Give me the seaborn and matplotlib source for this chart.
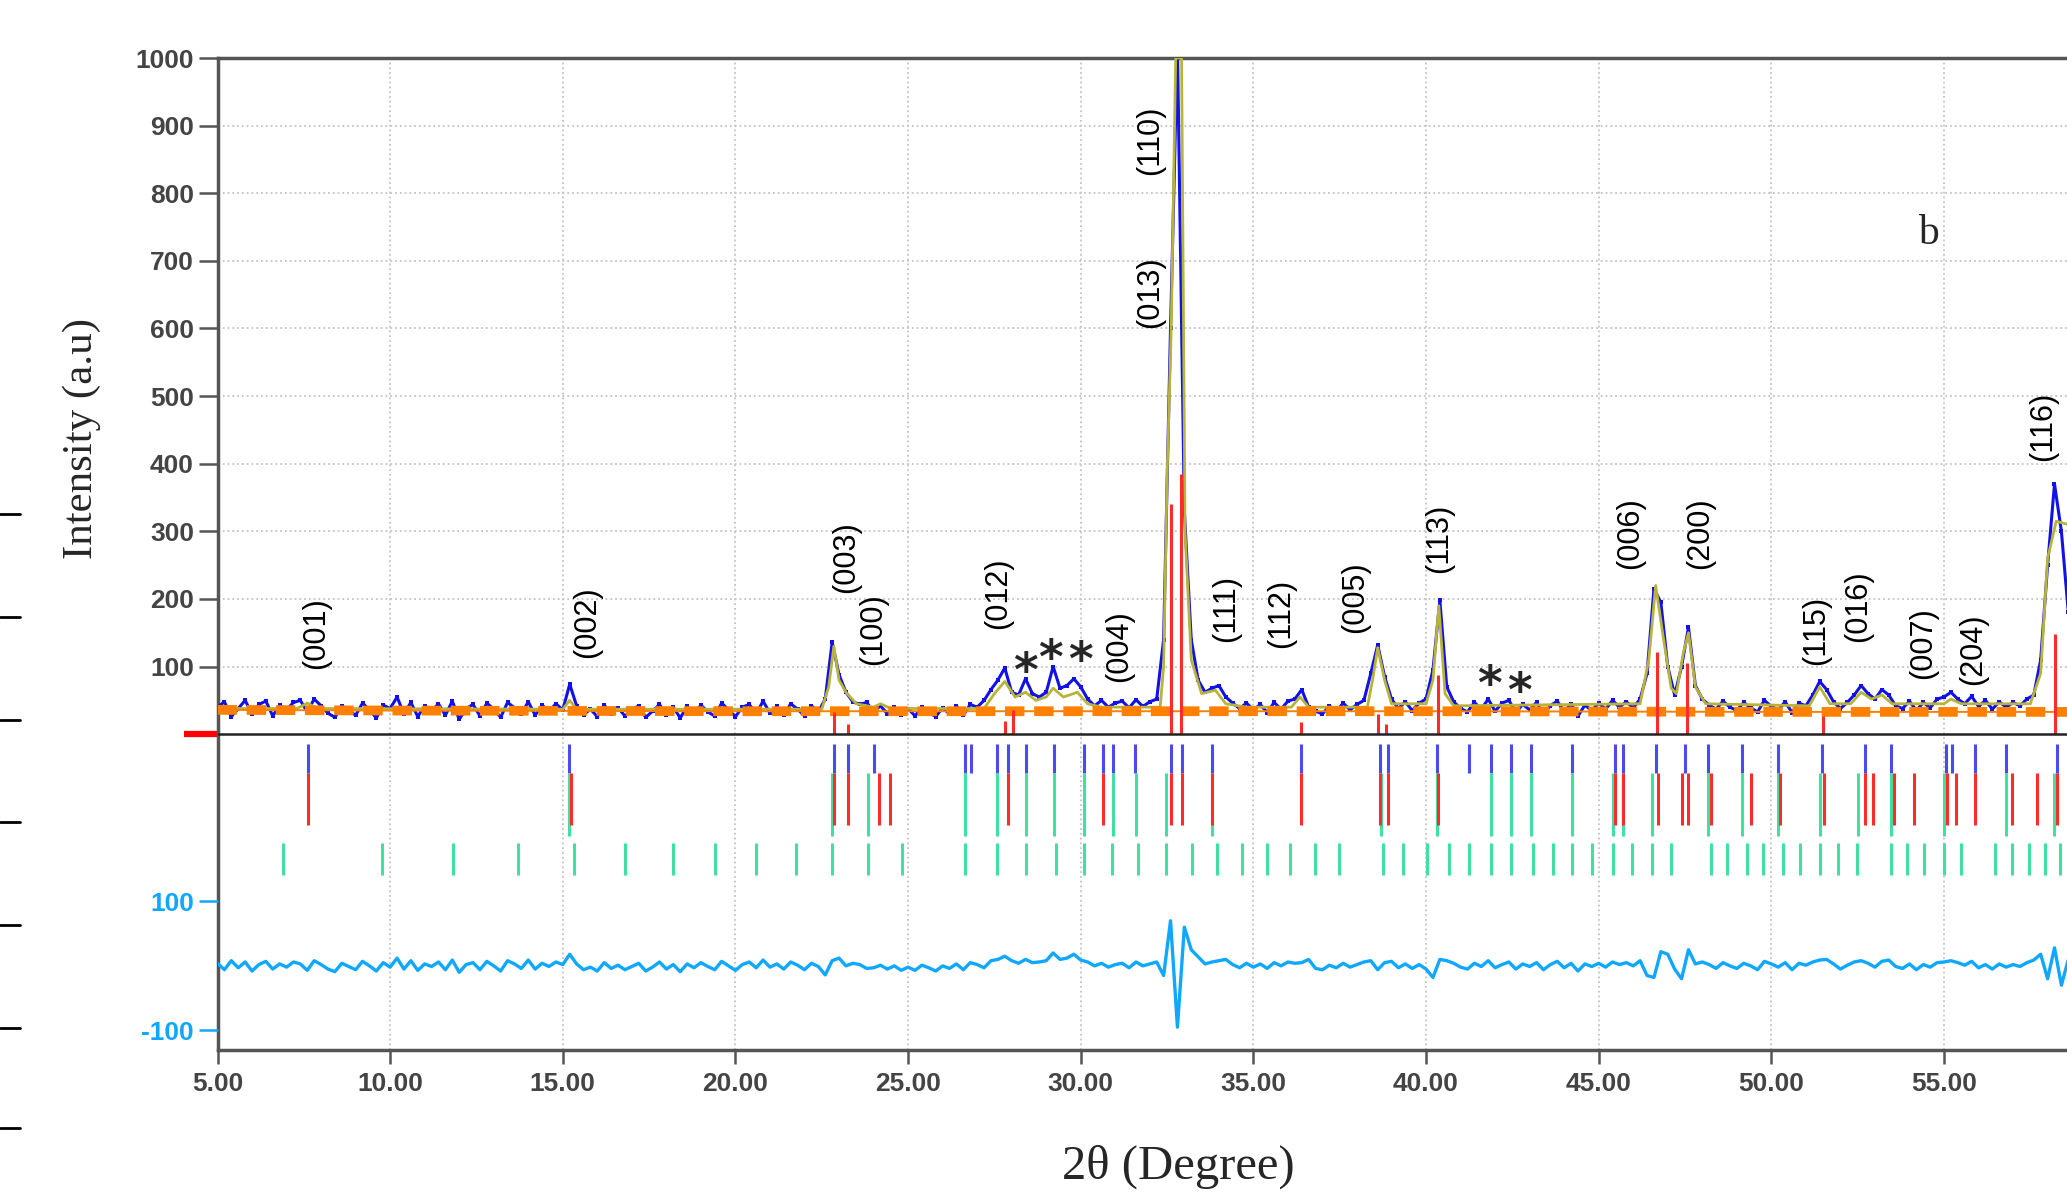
import numpy as np
import pandas as pd
import matplotlib
matplotlib.use("Agg")
import matplotlib.pyplot as plt
from matplotlib.lines import Line2D
import seaborn as sns

# ---- data ----
# observed intensity on a 0.2 degree grid, 5.0 .. 58.6
obs = [
    40, 48, 26, 38, 50, 30, 44, 49, 27, 43,
    36, 47, 50, 33, 52, 42, 31, 25, 42, 35,
    28, 46, 36, 24, 43, 38, 55, 30, 47, 26,
    42, 34, 45, 28, 49, 22, 38, 44, 27, 46,
    37, 25, 47, 39, 30, 48, 28, 43, 34, 45,
    36, 74, 42, 29, 37, 26, 43, 30, 39, 27,
    36, 42, 25, 34, 44, 28, 40, 24, 41, 30,
    43, 33, 27, 46, 36, 26, 40, 44, 30, 49,
    31, 41, 28, 45, 37, 27, 42, 33, 52, 136,
    88, 62, 48, 44, 47, 33, 42, 30, 40, 28,
    38, 27, 40, 32, 26, 39, 30, 42, 28, 44,
    40, 50, 66, 80, 98, 62, 58, 82, 60, 55,
    62, 100, 68, 72, 82, 70, 52, 42, 50, 40,
    46, 49, 39, 51, 41, 48, 52, 140, 600, 1020,
    330, 140, 80, 62, 68, 72, 55, 46, 38, 46,
    36, 44, 32, 47, 37, 49, 52, 66, 40, 34,
    30, 42, 34, 46, 36, 44, 50, 90, 132, 85,
    52, 38, 48, 35, 46, 52, 95, 198, 70, 48,
    38, 33, 47, 37, 52, 34, 46, 50, 32, 44,
    36, 47, 30, 42, 49, 33, 45, 27, 43, 35,
    46, 37, 50, 40, 48, 39, 52, 90, 215, 195,
    100, 58, 100, 158, 72, 52, 43, 37, 49, 40,
    35, 47, 39, 33, 50, 41, 36, 48, 32, 46,
    42, 58, 78, 66, 48, 38, 47, 58, 72, 60,
    52, 66, 58, 42, 38, 49, 35, 47, 39, 52,
    55, 62, 52, 45, 56, 41, 50, 37, 48, 40,
    47, 42, 52, 58, 110, 250, 370, 300, 180,
]
# difference curve (obs - calc) on the same grid
diff = [
    4, -6, 8, -3, 6, -8, 2, 7, -5, 3,
    -2, 6, 3, -7, 8, 2, -5, -9, 4, -1,
    -6, 7, 0, -8, 5, -2, 12, -5, 8, -7,
    3, -1, 6, -6, 9, -10, 2, 5, -6, 7,
    0, -8, 8, 3, -4, 9, -5, 4, -1, 6,
    2, 18, 3, -6, -2, -8, 5, -4, 1, -6,
    -1, 4, -8, -2, 6, -5, 2, -9, 3, -3,
    5, -1, -6, 7, 0, -7, 2, 6, -3, 9,
    -2, 3, -5, 6, 1, -6, 4, -1, -14, 8,
    12, 0, 4, 2, -4, -3, 1, -5, 0, -7,
    -2, -7, 1, -3, -8, 0, -4, 3, -6, 5,
    2, -3, 8, 10, 15, 8, 4, 10, 5, 6,
    8, 20, 10, 12, 18, 9, 6, 0, 4, -2,
    2, 4, -3, 6, 0, 3, 6, -15, 70, -95,
    60, 25, 14, 3, 6, 8, 10, 2, -3, 4,
    -2, 3, -4, 5, 0, 6, 4, 5, 10, -4,
    -6, 1, -3, 4, -2, 2, 6, 8, -6, 5,
    7, -3, 3, -4, 2, -5, -18, 10, 8, 4,
    -2, -5, 4, -1, 8, -3, 2, 6, -5, 3,
    -1, 5, -6, 2, 7, -3, 4, -8, 3, -1,
    4, -2, 6, 2, 5, 0, 8, -15, -18, 22,
    18, -5, -20, 25, 3, 6, 2, -4, 5, 0,
    -4, 4, 0, -6, 7, 3, -2, 5, -6, 4,
    1, 6, 9, 10, 3, -5, 1, 6, 8, 4,
    -2, 7, 9, -1, -4, 3, -6, 2, -2, 5,
    6, 8, 5, 1, 7, -3, 2, -5, 3, -2,
    2, -1, 5, 9, 18, -20, 28, -30, 10,
]
two_theta = 5.0 + 0.2 * np.arange(len(obs))

# calculated profile (sparse points)
calc_x = [5.0, 7.3, 7.6, 7.9, 15.0, 15.2, 15.4, 22.5, 22.7, 22.85, 23.0, 23.2,
          23.5, 24.0, 24.2, 24.5, 27.2, 27.5, 27.8, 28.1, 28.4, 28.7, 29.0, 29.2,
          29.5, 29.9, 30.2, 30.6, 32.3, 32.4, 32.5, 32.62, 32.75, 32.92, 33.02,
          33.2, 33.5, 33.9, 34.2, 34.8, 36.1, 36.35, 36.6, 38.3, 38.45, 38.6,
          38.8, 39.0, 40.0, 40.2, 40.37, 40.55, 40.8, 46.2, 46.45, 46.65, 46.85,
          47.1, 47.25, 47.45, 47.6, 47.8, 48.1, 51.1, 51.4, 51.7, 52.3, 52.6,
          52.9, 53.2, 53.5, 55.0, 55.2, 55.5, 57.5, 57.8, 58.0, 58.25, 58.6]
calc_y = [38, 38, 46, 38, 37, 50, 37, 37, 70, 130, 80, 62,
          45, 40, 45, 38, 38, 60, 78, 55, 62, 50, 55, 68,
          55, 62, 45, 40, 40, 100, 380, 600, 1000, 1000, 300,
          110, 60, 65, 45, 40, 40, 55, 40, 40, 80, 128,
          80, 45, 45, 80, 190, 60, 42, 45, 110, 220, 150,
          68, 60, 120, 150, 70, 45, 42, 70, 45, 45, 62,
          52, 58, 45, 45, 52, 45, 45, 90, 260, 315, 310]

# background
bg_x = [5.0, 10.0, 20.0, 30.0, 40.0, 50.0, 59.2]
bg_y = [36, 35, 34, 34, 34, 33, 33]

# strong reflection sticks
stick_x = [22.86, 23.25, 27.8, 28.05, 32.62, 32.9, 36.39, 38.6, 38.85,
           40.36, 46.7, 47.55, 51.5, 58.22]
stick_h = [33, 15, 20, 36, 340, 385, 18, 30, 15, 87, 122, 105, 27, 148]

# reflection markers (three phases)
blue_ticks = [7.63, 15.19, 22.86, 23.25, 24.0, 26.66, 26.82, 27.57, 27.9, 28.4,
              29.22, 30.08, 30.65, 30.94, 31.58, 32.62, 32.92, 33.79, 36.39,
              38.66, 38.9, 40.33, 41.24, 41.88, 42.46, 43.03, 44.23, 45.46,
              45.71, 46.67, 47.5, 48.16, 49.15, 50.2, 51.48, 52.72, 53.46,
              55.07, 55.23, 55.91, 56.8, 58.26]
red_ticks = [7.63, 15.25, 22.86, 23.25, 24.16, 24.48, 27.9, 30.65, 32.62, 32.92,
             33.79, 36.39, 38.66, 38.9, 40.36, 45.46, 45.71, 46.73, 47.42, 47.6,
             48.24, 49.42, 50.25, 51.52, 52.72, 52.94, 53.54, 54.12, 55.1,
             55.35, 55.91, 56.96, 57.7, 58.26]
green_link_ticks = [15.19, 22.79, 23.83, 26.66, 27.57, 28.4, 29.22, 30.08, 30.94,
                    31.6, 32.47, 33.79, 38.7, 40.33, 41.88, 42.46, 43.03, 44.23,
                    45.4, 45.71, 46.54, 48.16, 49.15, 50.2, 51.42, 52.5, 53.46,
                    55.0, 56.8, 58.2]
green_ticks = [6.9, 9.76, 11.83, 13.7, 15.32, 16.79, 18.2, 19.4, 20.6, 21.75,
               22.79, 23.83, 24.81, 26.66, 27.57, 28.4, 29.29, 30.08, 30.91,
               31.66, 32.47, 33.21, 33.94, 34.68, 35.39, 36.06, 36.79, 37.47,
               38.74, 39.34, 40.02, 40.67, 41.24, 41.88, 42.46, 43.11, 43.67,
               44.23, 44.82, 45.4, 45.96, 46.54, 47.1, 48.24, 48.71, 49.3, 49.77,
               50.35, 50.84, 51.42, 51.92, 52.47, 53.46, 53.93, 54.43, 55.0,
               55.48, 56.47, 56.96, 57.45, 57.92, 58.36]

# Miller index labels
hkl_labels = ["(001)", "(002)", "(003)", "(100)", "(012)", "(004)", "(013)",
              "(110)", "(111)", "(112)", "(005)", "(113)", "(006)", "(200)",
              "(115)", "(016)", "(007)", "(204)", "(116)"]
hkl_x = [7.86, 15.69, 23.2, 24.0, 27.6, 31.1, 32.0, 32.0, 34.2, 35.8, 37.94,
         40.38, 45.9, 47.94, 51.3, 52.5, 54.4, 55.84, 57.86]
hkl_y = [96, 112, 209, 102, 155, 77, 600, 827, 137, 128, 150, 238, 244, 244,
         102, 137, 82, 73, 404]

# impurity markers
star_x = [28.4, 29.12, 30.0, 41.83, 42.71]
star_y = [111, 131, 127, 92, 82]

main_ticks = list(range(100, 1001, 100))
x_ticks = [5, 10, 15, 20, 25, 30, 35, 40, 45, 50, 55]
diff_ticks = [100, -100]

# ---- styling ----
sns.set_theme(style="ticks")
plt.rcParams["font.family"] = ["Liberation Sans", "DejaVu Sans"]

BLUE = "#1212E8"
OLIVE = "#B8B43A"
ORANGE = "#FF8000"
RED = "#FF2A2A"
TBLUE = "#4A4AF0"
GREEN = "#3FE0A2"
LBLUE = "#10A8FF"
AXC = "#555555"

W, H = 2067, 1199
fig = plt.figure(figsize=(W / 100, H / 100), dpi=100)
left_px, top_px, bot_px = 217.5, 58, 1050
ax_w_px = W - left_px + 20.7
ax = fig.add_axes([left_px / W, 1 - bot_px / H, ax_w_px / W, (bot_px - top_px) / H])
ax.set_xlim(5, 5 + ax_w_px / 34.53)
ax.set_ylim(-467, 1000)

df = pd.DataFrame({"two_theta": two_theta, "obs": obs, "diff": diff})

# grid
ax.grid(axis="x", ls=":", color="#c4c4c4", lw=1.3)
ax.grid(axis="y", ls=":", color="#c4c4c4", lw=1.3)
ax.set_axisbelow(True)

# observed, calculated, background
sns.lineplot(data=df, x="two_theta", y="obs", ax=ax, color=BLUE, lw=2.2,
             marker="s", markersize=3.5, markeredgewidth=0, zorder=3)
sns.lineplot(x=calc_x, y=calc_y, ax=ax, color=OLIVE, lw=2, zorder=4)
ax.plot(bg_x, bg_y, color=ORANGE, lw=1.4, zorder=5)
ax.plot(bg_x, bg_y, color=ORANGE, lw=7, ls=(0, (2.0, 1.0)), zorder=5)
ax.vlines(stick_x, 0, stick_h, color=RED, lw=2.2, zorder=6)
ax.axhline(0, color="#222222", lw=1.8, zorder=6)
ax.plot([-0.018, 0], [0, 0], transform=ax.get_yaxis_transform(), color="red",
        lw=4.5, clip_on=False, solid_capstyle="butt")

# reflection markers
ax.vlines(blue_ticks, -15, -58, color=TBLUE, lw=2.2, zorder=4)
ax.vlines(green_link_ticks, -58, -150, color=GREEN, lw=2.2, zorder=4)
ax.vlines(red_ticks, -58, -134, color=RED, lw=2.2, zorder=5)
ax.vlines(green_ticks, -161, -208, color=GREEN, lw=2.2, zorder=4)

# difference curve on its own scale
ax2 = ax.twinx()
ax2.set_ylim(-130.5, 1408)
sns.lineplot(data=df, x="two_theta", y="diff", ax=ax2, color=LBLUE, lw=2.4)
ax2.set_xlim(ax.get_xlim())
ax2.set_ylabel("")
ax2.yaxis.tick_left()
ax2.set_yticks(diff_ticks)
ax2.set_yticklabels([str(v) for v in diff_ticks])
ax2.tick_params(axis="y", colors=LBLUE, length=14, width=1.8, labelsize=19, pad=3)
for s in ax2.spines.values():
    s.set_visible(False)

# labels
for lab, x, y in zip(hkl_labels, hkl_x, hkl_y):
    ax.text(x, y, lab, rotation=90, ha="center", va="bottom", fontsize=22,
            color="black", zorder=7)
for x, y in zip(star_x, star_y):
    ax.text(x, y - 40, "*", ha="center", va="baseline", fontsize=34,
            fontweight="bold", family="DejaVu Sans", zorder=7)
ax.text(54.54, 740, "b", ha="center", va="center", fontsize=30,
        family="Liberation Serif")

# axes styling
ax.set_xticks(x_ticks)
ax.set_xticklabels([f"{v:.2f}" for v in x_ticks])
ax.set_yticks(main_ticks)
ax.set_yticklabels([str(v) for v in main_ticks])
ax.tick_params(axis="y", colors=AXC, length=14, width=1.8, labelsize=19, pad=3,
               labelcolor="#444444")
ax.tick_params(axis="x", colors=AXC, length=10, width=1.8, labelsize=19, pad=6,
               labelcolor="#444444")
for lab in ax.get_xticklabels() + ax.get_yticklabels() + ax2.get_yticklabels():
    lab.set_fontweight("bold")
for side in ["left", "bottom", "top"]:
    ax.spines[side].set_color(AXC)
    ax.spines[side].set_linewidth(2.5)
ax.spines["right"].set_visible(False)

ax.set_xlabel("2θ (Degree)", fontsize=35, family="Liberation Serif")
ax.xaxis.set_label_coords(0.514, -0.118)
ax.xaxis.label.set_va("center")
ax.set_ylabel("Intensity (a.u)", fontsize=31, family="Liberation Serif")
ax.yaxis.set_label_coords(-0.0725, 0.616)
ax.yaxis.label.set_va("center")

# cut-off ticks of the neighbouring panel at the far left
for yp in [514, 617, 720, 822, 925, 1028, 1128]:
    fig.add_artist(Line2D([0, 20 / W], [1 - yp / H, 1 - yp / H], color="black", lw=2))

fig.savefig("out.png", dpi=100)
